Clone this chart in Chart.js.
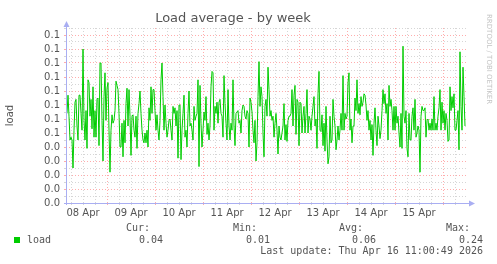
<!DOCTYPE html>
<html>
<head>
<meta charset="utf-8">
<script src="https://cdn.jsdelivr.net/npm/chart.js@4.4.1/dist/chart.umd.min.js"></script>
<style>
  html, body { margin: 0; padding: 0; background: #fff; }
  #wrap { width: 497px; height: 264px; }
</style>
</head>
<body>
<div id="wrap"><canvas id="chart" width="497" height="264"></canvas></div>
<script>

// samples every half hour, first one at 08 Apr 04:00
const startHour = 4;
const stepHours = 0.5;
const loadValues = [
  0.064,0.077,0.062,0.045,0.047,0.045,0.025,0.052,0.072,0.074,0.055,0.045,0.077,0.077,0.064,0.052,0.110,0.059,0.045,0.066,
  0.039,0.088,0.086,0.062,0.074,0.053,0.083,0.047,0.066,0.047,0.074,0.075,0.041,0.100,0.100,0.059,0.030,0.076,0.093,0.059,
  0.082,0.086,0.052,0.022,0.052,0.063,0.057,0.059,0.066,0.087,0.084,0.081,0.064,0.040,0.040,
  0.057,0.033,0.059,0.043,0.071,0.082,0.055,0.081,0.062,0.034,0.062,0.063,0.052,0.047,0.062,0.039,0.064,0.071,0.080,0.064,
  0.052,0.045,0.043,0.050,0.043,0.052,0.040,0.068,0.059,0.083,0.064,0.081,0.081,0.066,0.052,0.063,0.052,0.045,0.059,0.088,
  0.100,0.076,0.052,0.070,0.057,0.047,0.052,0.059,0.060,0.052,0.045,0.069,0.064,0.068,0.055,0.066,0.032,0.070,
  0.070,0.031,0.052,0.064,0.077,0.047,0.052,0.040,0.064,0.080,0.055,0.057,0.052,0.045,0.069,0.059,0.062,0.064,0.088,0.026,
  0.084,0.057,0.040,0.052,0.065,0.059,0.076,0.049,0.057,0.045,0.055,0.083,0.094,0.093,0.052,0.069,0.064,0.072,0.057,0.072,
  0.074,0.064,0.062,0.047,0.091,0.071,0.057,0.045,0.081,0.055,0.045,0.057,0.052,0.088,0.055,0.041,0.064,0.065,
  0.066,0.057,0.059,0.050,0.066,0.070,0.069,0.062,0.060,0.066,0.064,0.040,0.075,0.072,0.065,0.052,0.043,0.059,0.030,0.043,
  0.076,0.101,0.069,0.083,0.076,0.050,0.033,0.069,0.074,0.062,0.097,0.081,0.062,0.066,0.059,0.062,0.047,0.057,0.064,0.052,
  0.035,0.055,0.047,0.045,0.050,0.055,0.071,0.045,0.056,0.044,0.059,0.062,0.062,0.064,0.081,0.055,0.077,0.084,
  0.049,0.074,0.072,0.041,0.072,0.071,0.050,0.062,0.069,0.050,0.064,0.081,0.050,0.062,0.060,0.052,0.062,0.069,0.076,0.055,
  0.060,0.039,0.078,0.094,0.052,0.051,0.063,0.041,0.057,0.037,0.069,0.045,0.028,0.033,0.062,0.043,0.045,0.074,0.062,0.055,
  0.038,0.045,0.055,0.045,0.052,0.064,0.052,0.091,0.052,0.064,0.060,0.062,0.086,0.093,0.052,0.060,0.043,0.055,
  0.055,0.075,0.066,0.088,0.064,0.071,0.063,0.076,0.069,0.072,0.078,0.077,0.070,0.059,0.066,0.052,0.059,0.045,0.056,0.034,
  0.057,0.068,0.052,0.041,0.062,0.055,0.046,0.052,0.066,0.081,0.071,0.078,0.064,0.071,0.045,0.084,0.069,0.074,0.066,0.052,
  0.069,0.052,0.069,0.057,0.062,0.050,0.040,0.064,0.039,0.112,0.062,0.057,0.066,0.039,0.033,0.064,0.045,0.045,
  0.062,0.068,0.052,0.074,0.047,0.050,0.055,0.052,0.022,0.062,0.069,0.066,0.066,0.068,0.047,0.059,0.060,0.052,0.057,0.052,
  0.060,0.052,0.076,0.052,0.057,0.052,0.062,0.068,0.081,0.052,0.072,0.057,0.066,0.052,0.064,0.059,0.044,0.045,0.083,0.066,
  0.076,0.068,0.078,0.052,0.052,0.059,0.066,0.038,0.108,0.069,0.052,0.097,0.076,0.055
];

const dayLabels = ['08 Apr', '09 Apr', '10 Apr', '11 Apr', '12 Apr', '13 Apr', '14 Apr', '15 Apr'];
const yTickValues = [0, 0.01, 0.02, 0.03, 0.04, 0.05, 0.06, 0.07, 0.08, 0.09, 0.10, 0.11, 0.12];
const yTickLabels = ['0.0', '0.0', '0.0', '0.0', '0.0', '0.1', '0.1', '0.1', '0.1', '0.1', '0.1', '0.1', '0.1'];

const seriesName = 'load';
const statHeads = ['Cur:', 'Min:', 'Avg:', 'Max:'];
const statValues = ['0.04', '0.01', '0.06', '0.24'];
const lastUpdate = 'Last update: Thu Apr 16 11:00:49 2026';

const lineColor = '#00cc00';
const textColor = '#555555';
const axisColor = '#a9aef2';
const majorGrid = 'rgba(255, 90, 90, 0.5)';
const minorGrid = 'rgba(165, 165, 165, 0.45)';

Chart.defaults.font.family = 'DejaVu Sans';

const points = loadValues.map((v, i) => ({ x: startHour + i * stepHours, y: v }));

// axes, arrows, watermark and the stats block under the plot
const rrdDecor = {
    id: 'rrdDecor',
    afterDraw(chart) {
        const ctx = chart.ctx;
        const { left, right, top, bottom } = chart.chartArea;
        ctx.save();

        ctx.strokeStyle = axisColor;
        ctx.fillStyle = axisColor;
        ctx.lineWidth = 1;
        ctx.beginPath();
        ctx.moveTo(left - 2, bottom + 0.5);
        ctx.lineTo(right + 4, bottom + 0.5);
        ctx.moveTo(left + 0.5, bottom + 2);
        ctx.lineTo(left + 0.5, top - 3);
        ctx.stroke();
        ctx.beginPath();
        ctx.moveTo(right + 9, bottom + 0.5);
        ctx.lineTo(right + 3, bottom - 2.5);
        ctx.lineTo(right + 3, bottom + 3.5);
        ctx.closePath();
        ctx.fill();
        ctx.beginPath();
        ctx.moveTo(left + 0.5, top - 7);
        ctx.lineTo(left - 2.5, top - 1);
        ctx.lineTo(left + 3.5, top - 1);
        ctx.closePath();
        ctx.fill();

        // watermark
        ctx.save();
        ctx.translate(489, 14);
        ctx.rotate(Math.PI / 2);
        ctx.font = '7px "DejaVu Sans"';
        ctx.fillStyle = '#c4c4c4';
        ctx.textAlign = 'left';
        ctx.textBaseline = 'middle';
        ctx.fillText('RRDTOOL / TOBI OETIKER', 0, 0);
        ctx.restore();

        // stats
        ctx.font = '10px "DejaVu Sans Mono"';
        ctx.fillStyle = textColor;
        ctx.textBaseline = 'alphabetic';
        ctx.textAlign = 'right';
        const headRight = [150, 257, 363, 470];
        const valueRight = [163, 270, 376, 483];
        statHeads.forEach((t, i) => ctx.fillText(t, headRight[i], 231));
        statValues.forEach((t, i) => ctx.fillText(t, valueRight[i], 243));
        ctx.fillText(lastUpdate, 483, 254);
        ctx.textAlign = 'left';
        ctx.fillText(seriesName, 27, 243);
        ctx.fillStyle = lineColor;
        ctx.fillRect(14, 237, 6, 6);

        ctx.restore();
    }
};

const ctx = document.getElementById('chart').getContext('2d');
const myChart = new Chart(ctx, {
    type: 'line',
    data: {
        datasets: [{
            label: seriesName,
            data: points,
            borderColor: lineColor,
            borderWidth: 1,
            pointRadius: 0,
            tension: 0,
            fill: false,
        }]
    },
    options: {
        responsive: false,
        animation: false,
        events: [],
        layout: {
            padding: { left: 0, top: 0, right: 31, bottom: 45 }
        },
        scales: {
            x: {
                type: 'linear',
                min: 3.5,
                max: 203.5,
                afterBuildTicks: (scale) => {
                    const ticks = [];
                    for (let h = 6; h <= 198; h += 6) ticks.push({ value: h });
                    scale.ticks = ticks;
                },
                afterFit: (scale) => { scale.height = 16; },
                ticks: {
                    autoSkip: false,
                    maxRotation: 0,
                    padding: 2,
                    color: textColor,
                    font: { size: 10 },
                    callback: (value) => (value % 24 === 12 ? dayLabels[(value - 12) / 24] : '')
                },
                grid: {
                    color: (c) => (c.tick && c.tick.value % 24 === 0 ? majorGrid : minorGrid),
                    tickColor: (c) => (c.tick && c.tick.value % 24 === 0 ? majorGrid : minorGrid),
                    tickLength: 2,
                },
                border: { display: false, dash: [1, 2] }
            },
            y: {
                min: 0,
                max: 0.125,
                afterBuildTicks: (scale) => {
                    const ticks = [];
                    for (let i = 0; i <= 25; i++) ticks.push({ value: i * 0.005 });
                    scale.ticks = ticks;
                },
                afterFit: (scale) => { scale.width = 66; },
                title: {
                    display: true,
                    text: 'load',
                    color: textColor,
                    font: { size: 10 },
                    padding: { top: 4, bottom: 0 }
                },
                ticks: {
                    autoSkip: false,
                    padding: 4,
                    color: textColor,
                    font: { size: 10 },
                    callback: (value, index) => (index % 2 === 0 && index / 2 < yTickLabels.length ? yTickLabels[index / 2] : '')
                },
                grid: {
                    color: (c) => (c.tick && c.index % 2 === 0 ? majorGrid : minorGrid),
                    tickColor: (c) => (c.tick && c.index % 2 === 0 ? majorGrid : minorGrid),
                    tickLength: 2,
                },
                border: { display: false, dash: [1, 2] }
            }
        },
        plugins: {
            legend: { display: false },
            tooltip: { enabled: false },
            title: {
                display: true,
                text: 'Load average - by week',
                color: textColor,
                font: { size: 13, weight: 'normal' },
                padding: { top: 11, bottom: 1.4 }
            }
        }
    },
    plugins: [rrdDecor]
});

</script>
</body>
</html>
